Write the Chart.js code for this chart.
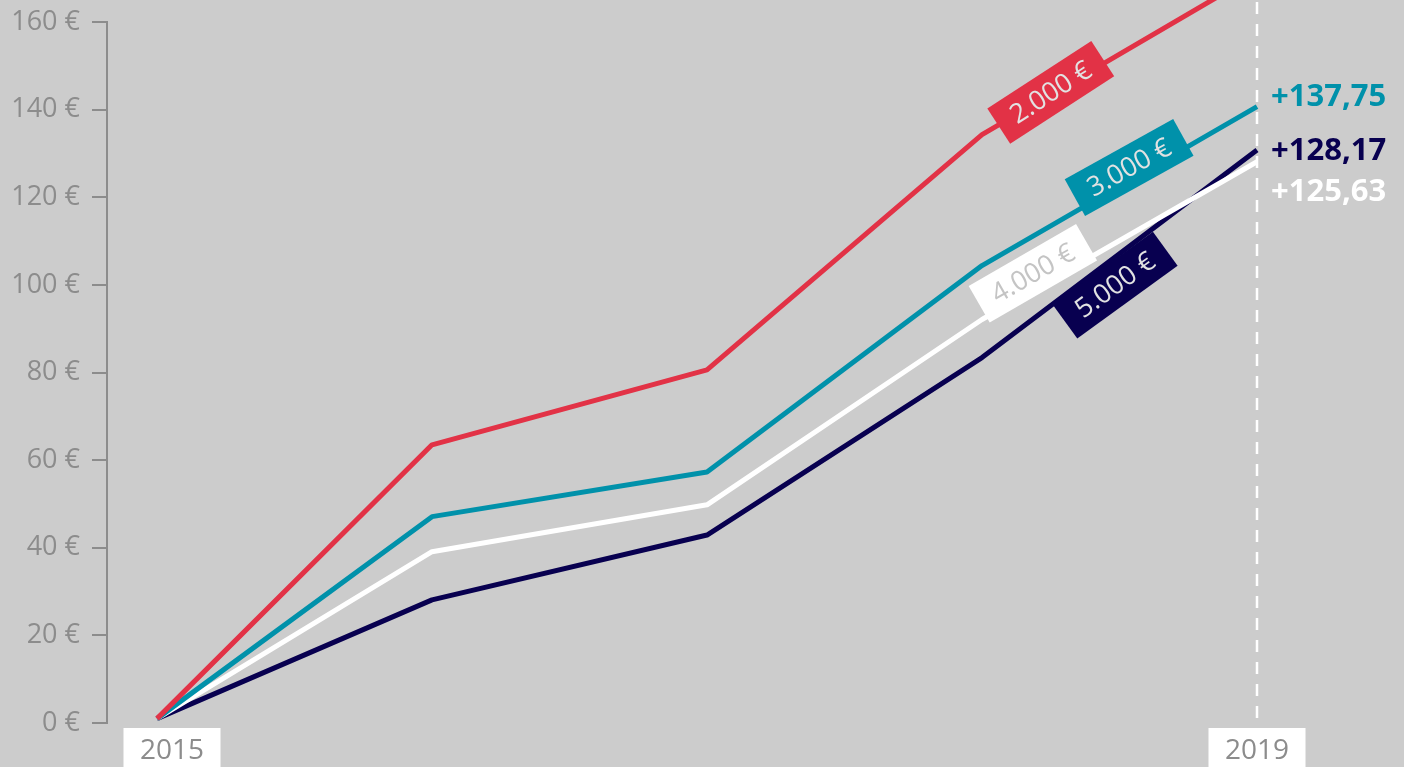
<!DOCTYPE html>
<html>
<head>
<meta charset="utf-8">
<script src="https://cdn.jsdelivr.net/npm/chart.js@4.4.1/dist/chart.umd.min.js"></script>
<style>
  html, body { margin: 0; padding: 0; background: #cccccc; }
  #wrap { width: 1404px; height: 767px; position: relative; }
</style>
</head>
<body>
<div id="wrap"><canvas id="chart"></canvas></div>
<script>
// values
const years = [2015, 2016, 2017, 2018, 2019];
const values2000 = [1, 63.5, 80.6, 134.3, 171];
const values3000 = [1, 47.1, 57.3, 104.4, 140.7];
const values4000 = [1, 39.1, 49.8, 92.1, 128.1];
const values5000 = [1, 28.1, 42.9, 83.4, 130.8];
const seriesNames = ['2.000 €', '3.000 €', '4.000 €', '5.000 €'];
const endLabels = ['', '+137,75', '+125,63', '+128,17'];
const yMax = 160;
const yStep = 20;
const shownYears = [2015, 2019];

const RED = 'rgb(226, 50, 70)';
const TEAL = 'rgb(0, 145, 170)';
const WHITE = '#ffffff';
const NAVY = 'rgb(8, 0, 80)';
const GREY = '#8c8c8c';
const FONT = '"Open Sans", "DejaVu Sans", sans-serif';

function toPoints(vals) {
  return years.map((x, i) => ({ x: x, y: vals[i] }));
}

// label box along the 2018-2019 segment: t = fraction, dy = vertical shift, angle in degrees
const boxStyles = [
  { bg: RED, fg: '#e2e2e2', t: 0.25, dy: -2, angle: -33 },
  { bg: TEAL, fg: '#e2e2e2', t: 0.535, dy: -13, angle: -29 },
  { bg: WHITE, fg: '#c4c4c4', t: 0.185, dy: -17, angle: -30 },
  { bg: NAVY, fg: '#e2e2e2', t: 0.484, dy: 28, angle: -36 }
];
const endOffsets = [0, -9, 30, 1];
const yearShift = [15, 0];

const decorations = {
  id: 'decorations',
  beforeDatasetsDraw(chart) {
    const ctx = chart.ctx;
    const xs = chart.scales.x;
    const x = xs.getPixelForValue(years[years.length - 1]);
    ctx.save();
    ctx.strokeStyle = '#ffffff';
    ctx.lineWidth = 2.5;
    ctx.setLineDash([12, 10]);
    ctx.beginPath();
    ctx.moveTo(x, 2);
    ctx.lineTo(x, chart.chartArea.bottom);
    ctx.stroke();
    ctx.restore();

    // year labels in white boxes
    ctx.save();
    ctx.font = '28px ' + FONT;
    ctx.textAlign = 'center';
    ctx.textBaseline = 'middle';
    shownYears.forEach((yr, i) => {
      const cx = xs.getPixelForValue(yr) + yearShift[i];
      const top = chart.chartArea.bottom + 5;
      ctx.fillStyle = '#ffffff';
      ctx.fillRect(cx - 48.5, top, 97, 60);
      ctx.fillStyle = GREY;
      ctx.fillText(String(yr), cx, top + 23);
    });
    ctx.restore();
  },
  afterDatasetsDraw(chart) {
    const ctx = chart.ctx;
    chart.data.datasets.forEach((ds, i) => {
      const meta = chart.getDatasetMeta(i);
      const p0 = meta.data[3], p1 = meta.data[4];
      const st = boxStyles[i];
      const cx = p0.x + (p1.x - p0.x) * st.t;
      const cy = p0.y + (p1.y - p0.y) * st.t + st.dy;
      ctx.save();
      ctx.translate(cx, cy);
      ctx.rotate(st.angle * Math.PI / 180);
      ctx.fillStyle = st.bg;
      ctx.fillRect(-62, -21, 124, 42);
      ctx.fillStyle = st.fg;
      ctx.font = '27px ' + FONT;
      ctx.textAlign = 'center';
      ctx.textBaseline = 'middle';
      ctx.fillText(seriesNames[i], 0, 1);
      ctx.restore();

      if (endLabels[i]) {
        ctx.save();
        ctx.fillStyle = ds.borderColor;
        ctx.font = 'bold 31px ' + FONT;
        ctx.textAlign = 'left';
        ctx.textBaseline = 'middle';
        ctx.fillText(endLabels[i], p1.x + 14, p1.y + endOffsets[i]);
        ctx.restore();
      }
    });
  }
};

new Chart(document.getElementById('chart'), {
  type: 'line',
  data: {
    datasets: [
      { label: seriesNames[0], data: toPoints(values2000), borderColor: RED, clip: false },
      { label: seriesNames[1], data: toPoints(values3000), borderColor: TEAL },
      { label: seriesNames[2], data: toPoints(values4000), borderColor: WHITE },
      { label: seriesNames[3], data: toPoints(values5000), borderColor: NAVY }
    ]
  },
  options: {
    responsive: true,
    maintainAspectRatio: false,
    animation: false,
    layout: { padding: { top: 22, right: 10, left: 0, bottom: 0 } },
    elements: {
      line: { borderWidth: 5, tension: 0, borderJoinStyle: 'round', fill: false },
      point: { radius: 0, hoverRadius: 0 }
    },
    plugins: {
      legend: { display: false },
      tooltip: { enabled: false }
    },
    scales: {
      x: {
        type: 'linear',
        min: 2015 - 50 / 275,
        max: 2019 + 137 / 275,
        afterFit(scale) { scale.height = 44; },
        border: { display: false },
        grid: { display: false },
        ticks: { display: false }
      },
      y: {
        min: 0,
        max: yMax,
        afterFit(scale) { scale.width = 107; },
        border: { display: true, color: GREY, width: 2 },
        grid: { drawOnChartArea: false, drawTicks: true, tickLength: 15, color: GREY, lineWidth: 2 },
        ticks: {
          stepSize: yStep,
          padding: 12,
          color: GREY,
          font: { family: FONT, size: 27, lineHeight: 0.7 },
          callback: v => v + ' €'
        }
      }
    }
  },
  plugins: [decorations]
});
</script>
</body>
</html>
